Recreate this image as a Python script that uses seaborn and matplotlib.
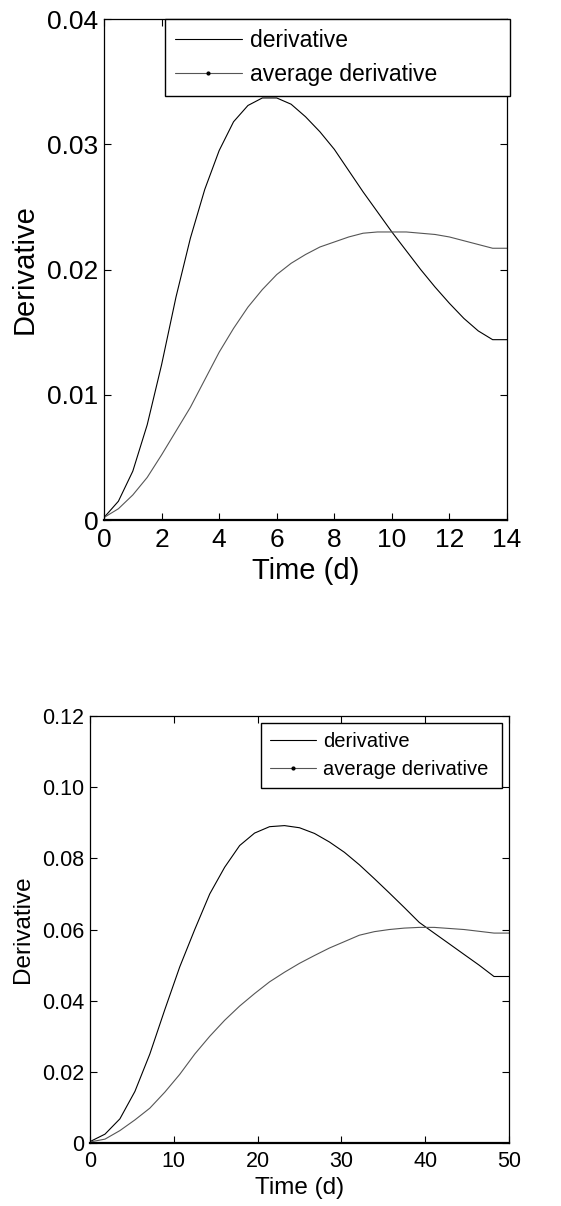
import numpy as np
import pandas as pd
import matplotlib
matplotlib.use("Agg")
import matplotlib.pyplot as plt
from matplotlib.lines import Line2D
import seaborn as sns

# top panel: 14 days
time_a = [0, 0.5, 1, 1.5, 2, 2.5, 3, 3.5, 4, 4.5, 5, 5.5, 6, 6.5, 7, 7.5, 8,
          8.5, 9, 9.5, 10, 10.5, 11, 11.5, 12, 12.5, 13, 13.5, 14]
deriv_a = [0.0002, 0.0015, 0.0039, 0.0076, 0.0124, 0.0178, 0.0225, 0.0264, 0.0295,
           0.0318, 0.0331, 0.0337, 0.0337, 0.0332, 0.0322, 0.0310, 0.0296, 0.0279,
           0.0262, 0.0246, 0.0230, 0.0215, 0.0200, 0.0186, 0.0173, 0.0161, 0.0151,
           0.0144, 0.0144]
avg_a = [0.0002, 0.0009, 0.0020, 0.0034, 0.0052, 0.0071, 0.0090, 0.0112, 0.0134,
         0.0153, 0.0170, 0.0184, 0.0196, 0.0205, 0.0212, 0.0218, 0.0222, 0.0226,
         0.0229, 0.0230, 0.0230, 0.0230, 0.0229, 0.0228, 0.0226, 0.0223, 0.0220,
         0.0217, 0.0217]

# bottom panel: 50 days
time_b = [0, 1.79, 3.57, 5.36, 7.14, 8.93, 10.71, 12.5, 14.29, 16.07, 17.86, 19.64,
          21.43, 23.21, 25.0, 26.79, 28.57, 30.36, 32.14, 33.93, 35.71, 37.5, 39.29,
          41.07, 42.86, 44.64, 46.43, 48.21, 50]
deriv_b = [0.0004, 0.0025, 0.0068, 0.0145, 0.0250, 0.0375, 0.0495, 0.0600, 0.0700,
           0.0775, 0.0836, 0.0871, 0.0889, 0.0892, 0.0886, 0.0870, 0.0846, 0.0817,
           0.0782, 0.0743, 0.0703, 0.0662, 0.0620, 0.0590, 0.0560, 0.0530, 0.0500,
           0.0468, 0.0468]
avg_b = [0.0003, 0.0011, 0.0035, 0.0065, 0.0098, 0.0143, 0.0193, 0.0250, 0.0300,
         0.0345, 0.0385, 0.0420, 0.0453, 0.0480, 0.0505, 0.0527, 0.0548, 0.0566,
         0.0584, 0.0594, 0.0600, 0.0604, 0.0606, 0.0606, 0.0603, 0.0600, 0.0595,
         0.0590, 0.0590]

yticks_a = [0, 0.01, 0.02, 0.03, 0.04]
ylabels_a = ["0", "0.01", "0.02", "0.03", "0.04"]
yticks_b = [0, 0.02, 0.04, 0.06, 0.08, 0.10, 0.12]
ylabels_b = ["0", "0.02", "0.04", "0.06", "0.08", "0.10", "0.12"]

sns.set_theme(style="ticks")
plt.rcParams['font.family'] = ['Liberation Sans', 'DejaVu Sans']
plt.rcParams['text.color'] = 'black'
plt.rcParams['axes.labelcolor'] = 'black'
plt.rcParams['xtick.color'] = 'black'
plt.rcParams['ytick.color'] = 'black'

fig = plt.figure(figsize=(5.61, 12.06), dpi=100)
ax1 = fig.add_axes([0.1854, 0.5688, 0.7184, 0.4154])
ax2 = fig.add_axes([0.1604, 0.0522, 0.7469, 0.3541])

df_a = pd.DataFrame({"t": time_a, "d": deriv_a, "a": avg_a})
df_b = pd.DataFrame({"t": time_b, "d": deriv_b, "a": avg_b})

fam = ['Liberation Sans', 'DejaVu Sans']

def style(ax, df, xmax, xticks, ymax, yticks, ylabels, tick_fs, lab_fs, leg_box, leg_fs, hlen):
    sns.lineplot(data=df, x="t", y="d", ax=ax, color="black", linewidth=0.8)
    sns.lineplot(data=df, x="t", y="a", ax=ax, color="#555555", linewidth=0.8)
    ax.set_xlim(0, xmax)
    ax.set_ylim(0, ymax)
    ax.set_xticks(xticks)
    ax.set_xticklabels([str(x) for x in xticks], family=fam, fontsize=tick_fs, color="black")
    ax.set_yticks(yticks)
    ax.set_yticklabels(ylabels, family=fam, fontsize=tick_fs, color="black")
    ax.tick_params(direction="in", top=True, right=True, length=5, width=0.8,
                   colors="black", pad=6)
    ax.tick_params(axis="y", pad=4)
    for s in ax.spines.values():
        s.set_visible(True)
        s.set_color("black")
        s.set_linewidth(0.9)
    ax.spines["bottom"].set_linewidth(1.6)
    ax.set_xlabel("Time (d)", family=fam, fontsize=lab_fs, labelpad=3, color="black")
    ax.set_ylabel("Derivative", family=fam, fontsize=lab_fs, labelpad=6, color="black")
    handles = [Line2D([0, 1], [0, 0], color="black", linewidth=0.8),
               Line2D([0, 0.5, 1], [0, 0, 0], color="#555555", linewidth=0.8,
                      marker=".", markersize=4, markerfacecolor="black",
                      markeredgecolor="black", markevery=[1])]
    leg = ax.legend(handles, ["derivative", "average derivative"], loc="upper left",
                    bbox_to_anchor=leg_box, bbox_transform=fig.transFigure, mode="expand",
                    prop={"family": fam, "size": leg_fs}, frameon=True, fancybox=False,
                    edgecolor="black", framealpha=1, handlelength=hlen, borderpad=0.45,
                    labelspacing=0.45, handletextpad=0.35, borderaxespad=0)
    leg.get_frame().set_linewidth(1.0)
    for t in leg.get_texts():
        t.set_color("black")

style(ax1, df_a, 14, list(range(0, 15, 2)), 0.04, yticks_a, ylabels_a, 19, 21,
      (0.294, 0.9195, 0.615, 0.0647), 16.5, 2.9)
style(ax2, df_b, 50, list(range(0, 51, 10)), 0.12, yticks_b, ylabels_b, 15.5, 17.5,
      (0.4652, 0.3475, 0.4296, 0.053), 14.5, 2.3)

fig.savefig("out.png", dpi=100)
